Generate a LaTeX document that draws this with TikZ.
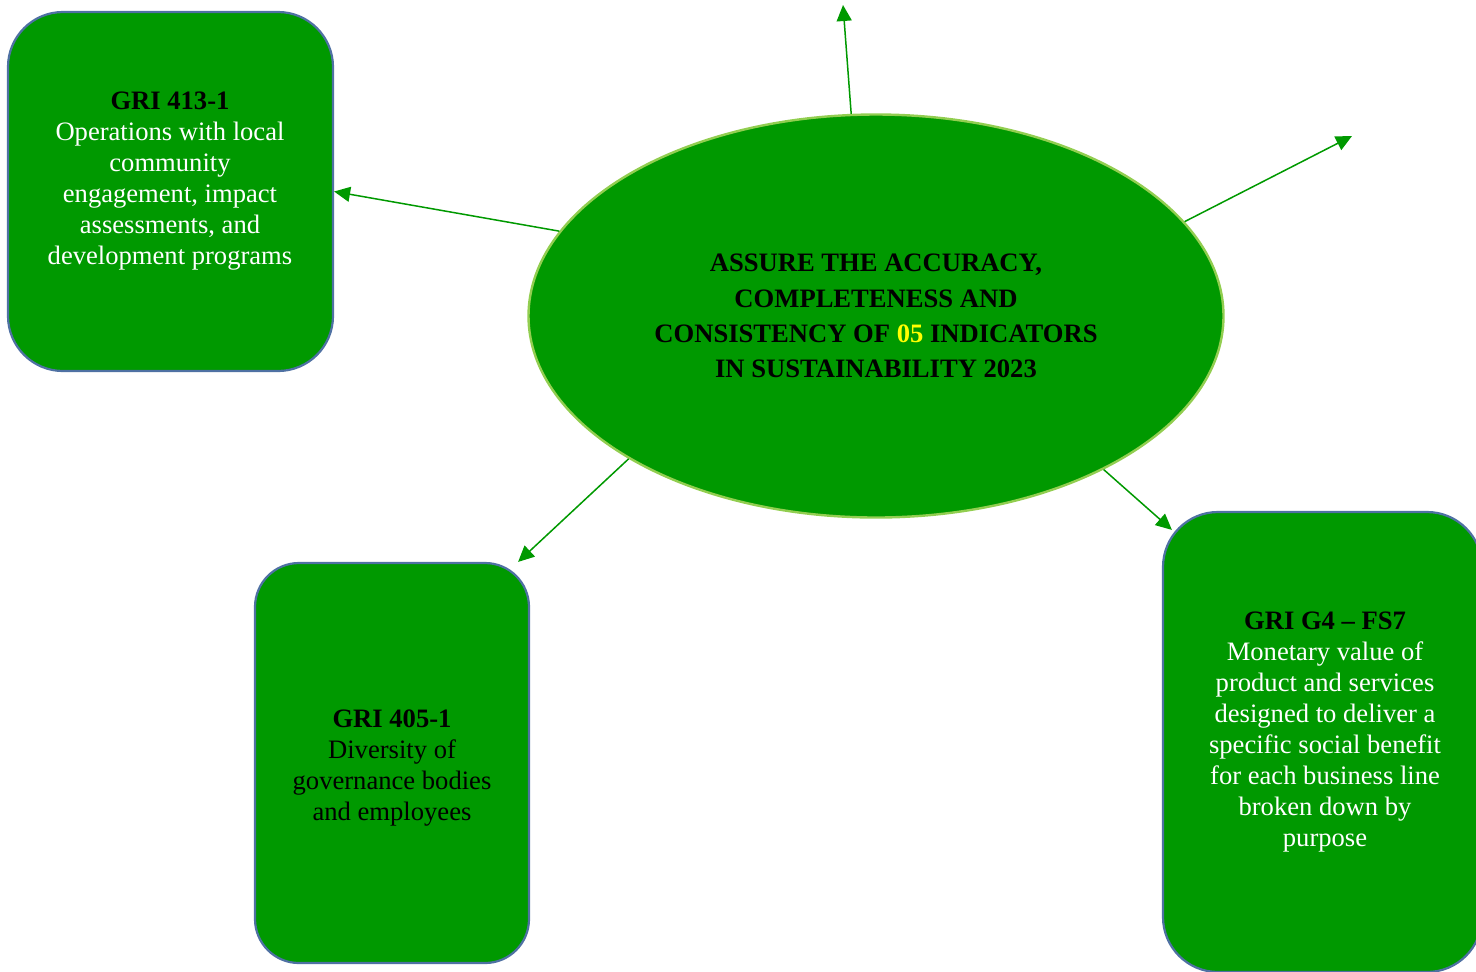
\documentclass[tikz,border=0pt]{standalone}
\usepackage{fontspec}
\setmainfont{Liberation Serif}
\usetikzlibrary{shapes.geometric,arrows.meta}
\definecolor{fillgreen}{RGB}{0,153,0}
\definecolor{ellborder}{RGB}{146,206,80}
\definecolor{boxborder}{RGB}{79,113,163}
\definecolor{arrowgreen}{RGB}{0,153,0}
\definecolor{numyellow}{RGB}{255,255,0}
\tikzset{
  gbox/.style={draw=boxborder, line width=1.1pt, fill=fillgreen, rectangle, inner sep=0pt},
  gell/.style={draw=ellborder, line width=1.2pt, fill=fillgreen, ellipse, inner sep=0pt,
    minimum width=347.5pt, minimum height=201.5pt},
  boxtext/.style={align=center, inner sep=0pt, font=\fontsize{13.3}{15.5}\selectfont},
  elltext/.style={align=center, inner sep=0pt, font=\fontsize{13.3}{17.65}\selectfont\bfseries},
  conn/.style={draw=arrowgreen, line width=0.75pt, -{Triangle[width=7.5pt,length=8pt]}}
}
\begin{document}
\begin{tikzpicture}[x=0.5pt,y=-0.5pt]
\useasboundingbox (0,0) rectangle (1476,971);
\clip (0,0) rectangle (1476,971);
% boxes
\node[gbox, rounded corners=27.5pt, minimum width=162.5pt, minimum height=179.5pt] (b1) at (170.5,191.5) {};
\node[gbox, rounded corners=22pt, minimum width=137pt, minimum height=200pt] (b2) at (392,763) {};
\node[gbox, rounded corners=27.5pt, minimum width=159.5pt, minimum height=230pt] (b3) at (1322.5,742) {};
% ellipse
\node[gell] (ell) at (876,316) {};
% texts
\node[boxtext, text=white] (t1) at (170,181.5) {\textcolor{black}{\textbf{GRI 413-1}}\\Operations with local\\community\\engagement, impact\\assessments, and\\development programs};
\node[boxtext, text=black] (t2) at (392,768) {\textbf{GRI 405-1}\\Diversity of\\governance bodies\\and employees};
\node[boxtext, text=white] (t3) at (1325,732.5) {\textcolor{black}{\textbf{GRI G4 -- FS7}}\\Monetary value of\\product and services\\designed to deliver a\\specific social benefit\\for each business line\\broken down by\\purpose};
\node[elltext, text=black] (te) at (876,316) {ASSURE THE ACCURACY,\\COMPLETENESS AND\\CONSISTENCY OF \textcolor{numyellow}{05} INDICATORS\\IN SUSTAINABILITY 2023};
% free ends
\coordinate (up) at (843,5);
\coordinate (ur) at (1352,136);
% connectors
\draw[conn] (ell.165.5) -- (b1.east);
\draw[conn] (ell.97) -- (up);
\draw[conn] (ell.17) -- (ur);
\draw[conn] (ell.210) -- ([xshift=-6pt]b2.north east);
\draw[conn] (ell.326) -- ([shift={(5pt,-9.5pt)}]b3.north west);
\end{tikzpicture}
\end{document}
